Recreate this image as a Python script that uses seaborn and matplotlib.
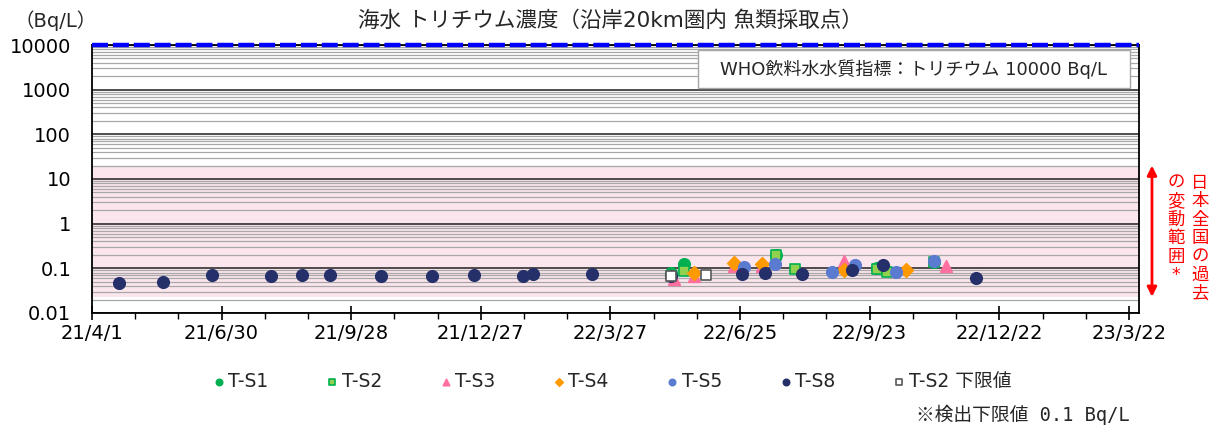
import numpy as np
import pandas as pd
import matplotlib
matplotlib.use("Agg")
import matplotlib.pyplot as plt
import matplotlib.dates as mdates
from matplotlib.ticker import LogLocator, FixedLocator, NullFormatter
from matplotlib.patches import Rectangle
import seaborn as sns

# ----------------------------
# Data
# ----------------------------
ts1_dates = ["2022-05-08", "2022-05-17", "2022-07-20", "2022-09-28", "2022-11-07"]
ts1_vals = [0.077, 0.125, 0.20, 0.10, 0.14]

ts2_dates = ["2022-05-17", "2022-07-20", "2022-08-02", "2022-09-28", "2022-10-05", "2022-11-07"]
ts2_vals = [0.088, 0.20, 0.098, 0.098, 0.081, 0.139]

ts3_dates = ["2022-05-10", "2022-05-24", "2022-06-21", "2022-07-10", "2022-09-05", "2022-11-15"]
ts3_vals = [0.057, 0.067, 0.113, 0.11, 0.146, 0.113]

ts4_dates = ["2022-05-24", "2022-06-21", "2022-07-10", "2022-09-05", "2022-10-18"]
ts4_vals = [0.080, 0.134, 0.127, 0.092, 0.092]

ts5_dates = ["2022-06-28", "2022-07-19", "2022-08-28", "2022-09-13", "2022-10-11", "2022-11-07"]
ts5_vals = [0.109, 0.127, 0.084, 0.119, 0.081, 0.149]

ts8_dates = ["2021-04-20", "2021-05-20", "2021-06-23", "2021-08-03", "2021-08-25",
             "2021-09-13", "2021-10-19", "2021-11-23", "2021-12-22", "2022-01-25",
             "2022-02-01", "2022-03-14", "2022-05-08", "2022-06-26", "2022-07-12",
             "2022-08-07", "2022-09-11", "2022-10-02", "2022-12-06"]
ts8_vals = [0.048, 0.050, 0.072, 0.069, 0.072,
            0.071, 0.067, 0.068, 0.071, 0.068,
            0.074, 0.075, 0.067, 0.073, 0.080,
            0.075, 0.092, 0.117, 0.061]

ts2_lim_dates = ["2022-05-08", "2022-06-01"]
ts2_lim_vals = [0.069, 0.072]

series_names = ["T-S1", "T-S2", "T-S3", "T-S4", "T-S5", "T-S8", "T-S2 下限値"]

ytick_vals = [0.01, 0.1, 1, 10, 100, 1000, 10000]
ytick_labels = ["0.01", "0.1", "1", "10", "100", "1000", "10000"]
xtick_labels = ["21/4/1", "21/6/30", "21/9/28", "21/12/27", "22/3/27",
                "22/6/25", "22/9/23", "22/12/22", "23/3/22"]

who_limit = 10000
japan_range = (0.023, 20)

# ----------------------------
# Style
# ----------------------------
sns.set_theme(style="white")
plt.rcParams['font.family'] = ['DejaVu Sans', 'Noto Sans CJK JP']

fig = plt.figure(figsize=(12.2, 4.32), dpi=100)
ax = fig.add_axes([0.0754, 0.2755, 0.8582, 0.6203])

# pink band: past variation range in Japan
ax.axhspan(japan_range[0], japan_range[1], color='#FCE6EE', zorder=0.2, lw=0)

# ----------------------------
# Scatter series
# ----------------------------
specs = [
    (ts1_dates, ts1_vals, 'o', '#00B050', '#00B050', 68),
    (ts2_dates, ts2_vals, 's', '#92D050', '#00B050', 60),
    (ts3_dates, ts3_vals, '^', '#FF6FA0', '#FF6FA0', 70),
    (ts4_dates, ts4_vals, 'D', '#FF9900', '#FF9900', 48),
    (ts5_dates, ts5_vals, 'o', '#5B7BD0', '#5B7BD0', 68),
    (ts8_dates, ts8_vals, 'o', '#25306A', '#25306A', 68),
    (ts2_lim_dates, ts2_lim_vals, 's', 'white', '#595959', 55),
]
for i, (d, v, m, fc, ec, s) in enumerate(specs):
    sns.scatterplot(x=pd.to_datetime(d), y=v, ax=ax, marker=m, color=fc,
                    edgecolor=ec, linewidth=1.2, s=s, label=series_names[i],
                    legend=False, zorder=3 + i)

# WHO guideline line
ax.axhline(who_limit, color='#0000FF', lw=3.2, ls=(0, (3.6, 1.1)), zorder=10, clip_on=False)

# ----------------------------
# Axes
# ----------------------------
ax.set_yscale('log')
ax.set_ylim(0.01, 10000)
ax.set_yticks(ytick_vals)
ax.set_yticklabels(ytick_labels)
ax.yaxis.set_minor_locator(LogLocator(base=10, subs=np.arange(2, 10)))
ax.yaxis.set_minor_formatter(NullFormatter())
ax.set_axisbelow(True)
ax.grid(which='major', axis='y', color='#303030', lw=1.2)
ax.grid(which='minor', axis='y', color='#A8A8A8', lw=0.9)
ax.grid(which='both', axis='x', visible=False)
ax.tick_params(axis='y', which='both', length=0, pad=15, labelsize=14, colors='black')

start = pd.Timestamp('2021-04-01')
ax.set_xlim(start, pd.Timestamp('2023-03-29'))
major = pd.date_range(start, periods=len(xtick_labels), freq='90D')
ax.set_xticks(major)
ax.set_xticklabels(xtick_labels)
minor = pd.date_range(start, '2023-03-31', freq='30D')
ax.xaxis.set_minor_locator(FixedLocator(mdates.date2num(minor)))
ax.tick_params(axis='x', which='major', bottom=True, direction='inout', length=10,
               width=1.2, labelsize=14, pad=3, colors='black')
ax.tick_params(axis='x', which='minor', bottom=True, direction='out', length=4, width=1,
               colors='black')
ax.set_xlabel('')
ax.set_ylabel('')
for sp in ax.spines.values():
    sp.set_color('black')
    sp.set_linewidth(1.3)

# WHO text box
ax.add_patch(Rectangle((0.579, 0.84), 0.4126, 0.141, transform=ax.transAxes,
                       facecolor='white', edgecolor='#A6A6A6', lw=1, zorder=11))
ax.text(0.785, 0.91, "WHO飲料水水質指標：トリチウム 10000 Bq/L", transform=ax.transAxes,
        ha='center', va='center', fontsize=13, zorder=12)

# red range arrow + vertical text
ax.annotate('', xy=(1.0124, japan_range[0]), xytext=(1.0124, japan_range[1]),
            xycoords=ax.get_yaxis_transform(), textcoords=ax.get_yaxis_transform(),
            arrowprops=dict(arrowstyle='<|-|>', color='#FF0000', lw=2,
                            mutation_scale=14, shrinkA=0, shrinkB=0))
fig.text(1200 / 1220, 1 - 174 / 432, "\n".join("日本全国の過去"), ha='center', va='top',
         color='#FF0000', fontsize=12.5, linespacing=1.03)
fig.text(1176 / 1220, 1 - 174 / 432, "\n".join("の変動範囲*"), ha='center', va='top',
         color='#FF0000', fontsize=12.5, linespacing=1.03)

# titles
fig.text(0.50, 0.952, "海水 トリチウム濃度（沿岸20km圏内 魚類採取点）", ha='center',
         va='center', fontsize=15.5)
fig.text(0.012, 0.952, "（Bq/L）", ha='left', va='center', fontsize=14)

# legend
handles, labels = ax.get_legend_handles_labels()
fig.legend(handles, labels, loc='center left', bbox_to_anchor=(0.174, 0.116), ncol=7,
           frameon=False, markerscale=0.55, fontsize=13.5, handletextpad=0.15,
           columnspacing=3.05, handlelength=0.7, borderaxespad=0, borderpad=0)

fig.text(1130 / 1220, 0.039, "※検出下限値 0.1 Bq/L", ha='right', va='center',
         fontsize=13.5, family=['DejaVu Sans Mono', 'Noto Sans CJK JP'])

fig.savefig('out.png', dpi=100)
